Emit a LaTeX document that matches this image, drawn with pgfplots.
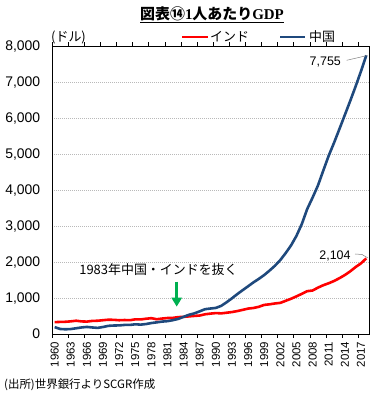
\documentclass[border=0pt]{standalone}
\usepackage{pgfplots}
\pgfplotsset{compat=1.18}
\usepackage{pgfplotstable}
\usetikzlibrary{arrows.meta}
\usepackage{fontspec}
\setmainfont{Liberation Sans}
\newfontfamily\jp{Noto Sans CJK JP}
\newfontfamily\serif{Liberation Serif}
\definecolor{cnblue}{RGB}{31,73,125}
\definecolor{inred}{RGB}{255,0,0}
\definecolor{arrgreen}{RGB}{0,176,80}

\pgfplotstableread{
year india china
1960 330 190
1961 336 140
1962 340 131
1963 352 138
1964 370 160
1965 350 182
1966 345 197
1967 364 182
1968 369 170
1969 384 195
1970 398 227
1971 394 236
1972 383 239
1973 389 252
1974 384 253
1975 408 270
1976 405 261
1977 425 277
1978 440 305
1979 411 324
1980 430 345
1981 445 358
1982 449 385
1983 470 420
1984 477 478
1985 490 535
1986 503 574
1987 514 631
1988 549 691
1989 567 709
1990 582 726
1991 574 783
1992 592 883
1993 611 994
1994 638 1112
1995 672 1221
1996 707 1328
1997 724 1437
1998 757 1535
1999 810 1641
2000 826 1766
2001 850 1900
2002 866 2059
2003 924 2253
2004 981 2467
2005 1047 2731
2006 1118 3062
2007 1192 3478
2008 1210 3795
2009 1290 4133
2010 1358 4550
2011 1412 4961
2012 1476 5323
2013 1553 5706
2014 1640 6094
2015 1743 6484
2016 1862 6886
2017 1965 7308
2018 2104 7755
}\gdpdata

\begin{document}
\begin{tikzpicture}
\useasboundingbox (0,0) rectangle (375bp,396bp);
\begin{axis}[
  at={(52bp,62bp)}, anchor=south west,
  scale only axis, width=317bp, height=287.5bp,
  xmin=1959.5, xmax=2018.5, ymin=0, ymax=8000,
  xtick={1960,1963,...,2017},
  minor xtick={1959.5,1962.5,...,2018.5},
  major x tick style={draw=none},
  minor x tick style={black, line width=0.6pt},
  tick align=outside, minor tick length=4bp,
  xticklabel style={rotate=90, anchor=east, font=\fontsize{11.5}{11.5}\selectfont, /pgf/number format/1000 sep={}},
  ytick={0,1000,...,8000},
  ytick style={draw=none},
  yticklabel style={font=\fontsize{14}{14}\selectfont, /pgf/number format/1000 sep={,}, xshift=-4bp},
  /pgf/number format/assume math mode=true,
  ymajorgrids,
  grid style={color=gray!55, dash pattern=on 1bp off 1bp, line width=0.5bp},
  axis line style={black, line width=0.8pt},
]
\addplot[inred, line width=2.6pt, line join=round] table[x=year, y=india] {\gdpdata};
\addplot[cnblue, line width=2.6pt, line join=round] table[x=year, y=china] {\gdpdata};
\end{axis}
% title
\node[font=\fontsize{15}{15}\selectfont] at (212bp,381bp) {\underline{{\jp\bfseries 図表⑭}{\serif\bfseries 1}{\jp\bfseries 人あたり}{\serif\bfseries GDP}}};
% unit
\node[anchor=west, inner sep=0pt, font=\jp\fontsize{13}{13}\selectfont] at (51bp,359bp) {(ドル)};
% legend
\draw[inred, line width=2.6pt] (182bp,359bp) -- (208bp,359bp);
\node[anchor=west, inner sep=0pt, font=\jp\fontsize{13}{13}\selectfont] at (210bp,359bp) {インド};
\draw[cnblue, line width=2.6pt] (280bp,359bp) -- (305bp,359bp);
\node[anchor=west, inner sep=0pt, font=\jp\fontsize{13}{13}\selectfont] at (309bp,359bp) {中国};
% data labels
\node[font=\fontsize{12.5}{12.5}\selectfont] at (325.3bp,334.3bp) {7,755};
\draw[gray, line width=0.5pt] (346.7bp,335.7bp) -- (367.3bp,340.5bp);
\node[font=\fontsize{12.5}{12.5}\selectfont] at (335bp,140.3bp) {2,104};
\draw[gray, line width=0.5pt] (355bp,142bp) -- (362bp,141.5bp) -- (368bp,138bp);
% annotation
\node[font=\jp\fontsize{13}{13}\selectfont] at (158.5bp,126bp) {1983年中国・インドを抜く};
\draw[arrgreen, line width=3.5bp, -{Triangle[width=10bp,length=9bp]}] (176.7bp,114.3bp) -- (176.7bp,89.3bp);
% source
\node[anchor=west, inner sep=0pt, font=\jp\fontsize{11.5}{11.5}\selectfont] at (4bp,11bp) {(出所)世界銀行よりSCGR作成};
\end{tikzpicture}
\end{document}
